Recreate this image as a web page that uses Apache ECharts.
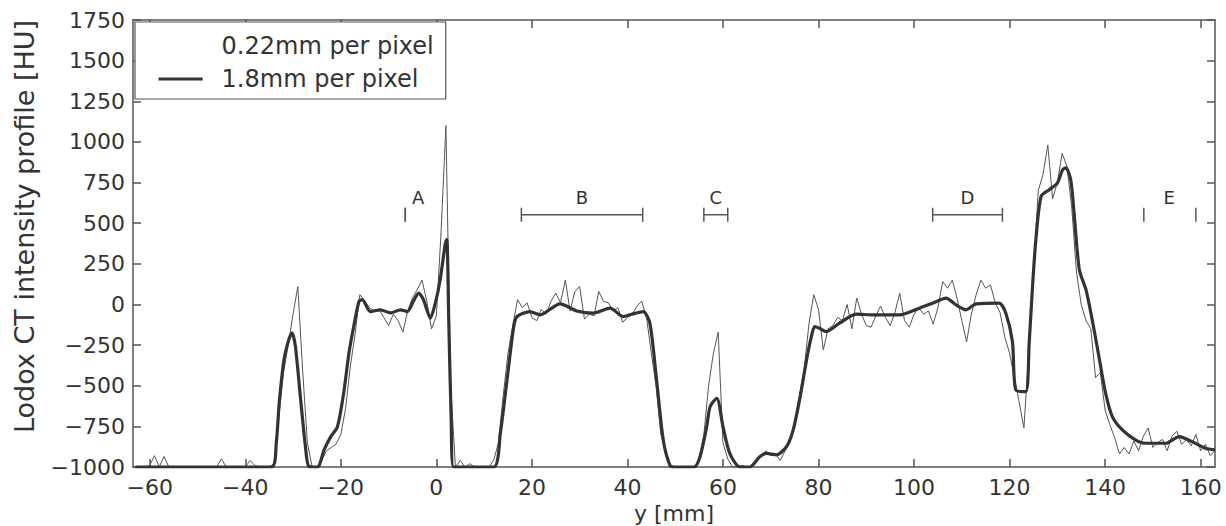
<!DOCTYPE html>
<html>
<head>
<meta charset="utf-8">
<script src="https://cdn.jsdelivr.net/npm/echarts@6/dist/echarts.min.js"></script>
<style>
  html, body { margin: 0; padding: 0; background: #fff; }
  #profile { width: 1226px; height: 526px; }
</style>
</head>
<body>
<div id="profile"></div>
<script>
// tick labels
var xTicks = [-60, -40, -20, 0, 20, 40, 60, 80, 100, 120, 140, 160];

// 1.8mm per pixel profile (smooth, thick line)
var thickX = [-63, -34.5, -33.5, -32.9, -31.9, -30.9, -30.2, -29.5, -28.4, -27.4, -26.7, -24.9, -23.5, -22.1,
    -20.7, -19.4, -18.3, -17.3, -16.2, -15.5, -13.8, -11.7, -9.6, -7.5, -6.1, -4.8, -3.7, -2.7, -1.25, -0.2,
    0.8, 1.9, 2.2, 2.6, 3.1, 3.6, 12, 13.4, 14.8, 16.2, 16.9, 19.6, 21.7, 25.9, 29.4, 32.9, 36.4, 39.1, 41.5,
    43.3, 44.7, 46.1, 47.5, 48.9, 49.8, 54, 55.2, 56.6, 57.3, 58.7, 60, 61.4, 63.5, 65.6, 67.7, 69.1, 71.2,
    73.3, 74.7, 76.1, 77.5, 78.5, 79.2, 80.2, 81.6, 84.4, 87.9, 91.4, 96.9, 101.1, 103.9, 106.7, 108.8, 110.9,
    113, 117.8, 119.2, 120.6, 121.3, 123.4, 124.1, 124.8, 125.5, 126.6, 128.3, 130, 131.1, 131.8, 132.8, 133.5,
    134.6, 136, 137.3, 138.7, 140.1, 141.5, 143.6, 146.4, 148.5, 152.7, 155.5, 158.2, 161, 163];
var thickY = [-1000, -1000, -850, -608, -341, -218, -174, -259, -587, -875, -995, -1000, -895, -813,
    -752, -546, -300, -136, 18, 30, -44, -33, -52, -33, -44, 20, 70, 29, -84, 10,
    152, 379, 400, -100, -700, -1000, -1000, -792, -464, -136, -74, -44, -64, 4, -40, -53, -23, -74, -55,
    -44, -115, -464, -834, -990, -1000, -1000, -937, -752, -629, -577, -752, -914, -1000, -1000, -937, -916, -925,
    -875, -772, -577, -341, -198, -136, -146, -167, -115, -60, -64, -64, -23, 8, 39, -3, -33,
    4, 8, -53, -230, -526, -536, -238, 110, 398, 665, 706, 747, 829, 840, 767, 562,
    213, 90, -95, -321, -546, -690, -772, -834, -854, -854, -813, -844, -885, -895];

// 0.22mm per pixel profile (noisy, thin line), one value per mm from -63 mm
var thinStart = -63;
var thinY = [
    -1000, -1000, -1000, -990, -930, -1000, -935, -1000, -1000, -1000,
    -1000, -1000, -1000, -1000, -1000, -1000, -1000, -1000, -950, -1000,
    -1000, -1000, -1000, -1000, -960, -990, -1000, -1000, -1000, -980,
    -700, -420, -250, -60, 110, -400, -850, -1000, -1000, -960,
    -900, -880, -860, -800, -640, -380, -180, 60, 20, -20,
    -40, -30, -80, -130, -60, -100, -170, -40, 40, 90,
    150, 20, -150, -70, 450, 1100, -500, -1000, -960, -1000,
    -980, -1000, -1000, -1000, -1000, -960, -850, -560, -300, -130,
    30, -20, 10, -80, -100, -30, -60, 20, 70, 10,
    150, -40, 80, 110, -90, -60, -70, 80, 20, 10,
    -40, -20, -110, -80, -60, -10, 20, -80, -300, -500,
    -800, -900, -990, -1000, -1000, -1000, -1000, -1000, -950, -800,
    -500, -300, -170, -850, -950, -1000, -1000, -990, -1000, -1000,
    -960, -930, -900, -930, -920, -960, -900, -850, -720, -560,
    -400, -120, 60, -30, -280, -150, -130, -80, -100, 0,
    -150, 40, -60, -130, -140, -70, -10, -80, -130, -50,
    70, -100, -140, -60, -20, -60, -40, -120, -20, 140,
    100, 150, 40, -100, -230, -60, 60, 150, 100, 120,
    10, -50, -200, -300, -450, -600, -760, -300, 200, 700,
    800, 980, 650, 750, 930, 850, 600, 200, 0, -100,
    -150, -450, -420, -650, -740, -820, -920, -880, -920, -840,
    -900, -810, -760, -880, -850, -830, -900, -810, -780, -860,
    -830, -870, -800, -900, -860, -930, -900];

// marked regions
var rangeNames = ['A', 'B', 'C', 'D', 'E'];
var rangeStart = [-6.5, 17.8, 56, 103.9, 148.1];
var rangeEnd = [-6.5, 43.2, 61, 118.5, 159];
var rangeHasBar = [0, 1, 1, 1, 0];
var rangeLabelX = [-3.8, 30.5, 58.5, 111.2, 153.4];
var rangeBarLevel = 552;
var rangeLabelLevel = 655;

var font = 'DejaVu Sans';
var axisColor = '#555';
var minus = function (v) { return v < 0 ? '\u2212' + (-v) : String(v); };

var thinData = thinY.map(function (v, i) { return [thinStart + i, v]; });
var thickData = thickX.map(function (x, i) { return [x, thickY[i]]; });
var rangeData = rangeNames.map(function (n, i) {
    return [rangeStart[i], rangeEnd[i], rangeHasBar[i], rangeLabelX[i], n];
});

var chart = echarts.init(document.getElementById('profile'), null, {renderer: 'svg'});

function sideAxis(pos) {
    return {
        type: 'value', position: pos,
        axisLine: {show: true, onZero: false, lineStyle: {color: axisColor, width: 1.5}},
        axisTick: {show: true, inside: true, length: 8, lineStyle: {color: axisColor, width: 1.5}},
        axisLabel: {show: false},
        splitLine: {show: false}
    };
}

var topAxis = sideAxis('top');
topAxis.min = -63.5; topAxis.max = 163;
topAxis.axisTick.customValues = xTicks;
var rightAxis = sideAxis('right');
rightAxis.min = -1000; rightAxis.max = 1750; rightAxis.interval = 250;

var option = {
    backgroundColor: '#fff',
    animation: false,
    grid: {left: 133, right: 11, top: 20, bottom: 59, containLabel: false, outerBoundsMode: 'none'},
    legend: {
        orient: 'vertical',
        left: 135, top: 22,
        padding: [12, 12, 8, 22],
        itemWidth: 44, itemHeight: 24, itemGap: 9,
        borderColor: axisColor, borderWidth: 1.2,
        backgroundColor: '#fff',
        textStyle: {fontFamily: font, fontSize: 24, color: '#333', padding: [0, 0, 0, 14]},
        data: [
            {name: '0.22mm per pixel', itemStyle: {opacity: 0}, lineStyle: {opacity: 0}},
            {name: '1.8mm per pixel', itemStyle: {opacity: 0}, lineStyle: {color: '#333', width: 3.2}}
        ]
    },
    xAxis: [{
        type: 'value', min: -63.5, max: 163,
        name: 'y [mm]', nameLocation: 'middle', nameGap: 32,
        nameTextStyle: {fontFamily: font, fontSize: 22, color: '#333'},
        axisLine: {show: true, onZero: false, lineStyle: {color: axisColor, width: 1.5}},
        axisTick: {show: true, inside: true, length: 8, customValues: xTicks, lineStyle: {color: axisColor, width: 1.5}},
        axisLabel: {customValues: xTicks, fontFamily: font, fontSize: 22, color: '#333', margin: 9, formatter: minus},
        splitLine: {show: false}
    }, topAxis],
    yAxis: [{
        type: 'value', min: -1000, max: 1750, interval: 250,
        name: 'Lodox CT intensity profile [HU]', nameLocation: 'middle', nameRotate: 90, nameGap: 95,
        nameTextStyle: {fontFamily: font, fontSize: 27, color: '#333', padding: [0, 0, 0, 34]},
        axisLine: {show: true, onZero: false, lineStyle: {color: axisColor, width: 1.5}},
        axisTick: {show: true, inside: true, length: 8, lineStyle: {color: axisColor, width: 1.5}},
        axisLabel: {fontFamily: font, fontSize: 22, color: '#333', margin: 8, formatter: minus},
        splitLine: {show: false}
    }, rightAxis],
    series: [
        {
            name: '0.22mm per pixel', type: 'line', data: thinData,
            symbol: 'none', z: 2, color: '#555',
            lineStyle: {color: '#555', width: 1}
        },
        {
            name: '1.8mm per pixel', type: 'line', data: thickData,
            symbol: 'none', smooth: 0.25, z: 3, color: '#333',
            lineStyle: {color: '#333', width: 3.2}
        },
        {
            type: 'custom', data: rangeData, z: 4, silent: true,
            renderItem: function (params, api) {
                var a = api.coord([api.value(0), rangeBarLevel]);
                var b = api.coord([api.value(1), rangeBarLevel]);
                var t = api.coord([api.value(3), rangeLabelLevel]);
                var st = {stroke: '#555', lineWidth: 1.5};
                var kids = [
                    {type: 'line', shape: {x1: a[0], y1: a[1] - 7, x2: a[0], y2: a[1] + 7}, style: st},
                    {type: 'line', shape: {x1: b[0], y1: b[1] - 7, x2: b[0], y2: b[1] + 7}, style: st},
                    {type: 'text', style: {text: rangeNames[params.dataIndex], x: t[0], y: t[1],
                        align: 'center', verticalAlign: 'middle', font: '18px "DejaVu Sans"', fill: '#333'}}
                ];
                if (api.value(2)) {
                    kids.push({type: 'line', shape: {x1: a[0], y1: a[1], x2: b[0], y2: b[1]}, style: st});
                }
                return {type: 'group', children: kids};
            }
        }
    ]
};
chart.setOption(option);
</script>
</body>
</html>
